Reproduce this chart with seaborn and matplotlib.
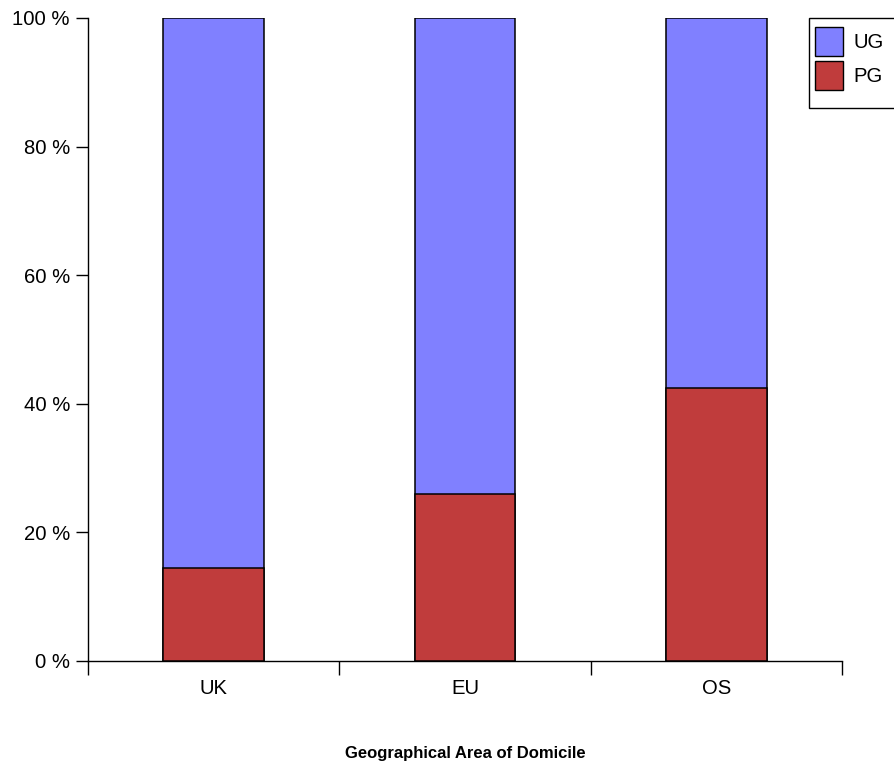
import matplotlib
matplotlib.use("Agg")
import matplotlib.pyplot as plt
import seaborn as sns
import pandas as pd
from matplotlib.patches import Patch, Rectangle

categories = ["UK", "EU", "OS"]
pg_pct = [14.5, 26.0, 42.4]
ug_pct = [85.5, 74.0, 57.6]
y_ticks = [0, 20, 40, 60, 80, 100]
y_tick_labels = ["0 %", "20 %", "40 %", "60 %", "80 %", "100 %"]

ug_color = "#8080FF"
pg_color = "#C03C3C"

sns.set_theme(style="white")
plt.rcParams["font.family"] = ["Liberation Sans", "DejaVu Sans"]
plt.rcParams["text.color"] = "black"
plt.rcParams["xtick.color"] = "black"
plt.rcParams["ytick.color"] = "black"
plt.rcParams["axes.labelcolor"] = "black"

df = pd.DataFrame({"area": categories, "pg": pg_pct, "ug": ug_pct})
df["total"] = df["pg"] + df["ug"]

W, H = 894, 767
fig = plt.figure(figsize=(W / 100, H / 100), dpi=100)
ax = fig.add_axes([88 / W, 106 / H, (842 - 88) / W, (661 - 18) / H])

sns.barplot(data=df, x="area", y="total", color=ug_color, saturation=1,
            width=0.4, edgecolor="black", linewidth=1.1, ax=ax, zorder=2)
sns.barplot(data=df, x="area", y="pg", color=pg_color, saturation=1,
            width=0.4, edgecolor="black", linewidth=1.1, ax=ax, zorder=3)

ax.set_xlim(-0.5, 2.5)
ax.set_ylim(0, 100)
for s in ["top", "right"]:
    ax.spines[s].set_visible(False)
for s in ["left", "bottom"]:
    ax.spines[s].set_color("black")
    ax.spines[s].set_linewidth(1.0)

ax.set_yticks(y_ticks)
ax.set_yticklabels(y_tick_labels, fontsize=14.6)
ax.tick_params(axis="y", direction="out", length=9, width=1.0, color="black",
               labelcolor="black", pad=4, left=True)

ax.set_xticks([-0.5, 0.5, 1.5, 2.5])
ax.set_xticklabels([])
ax.set_xticks(range(len(categories)), minor=True)
ax.set_xticklabels(categories, minor=True, fontsize=14.6)
ax.tick_params(axis="x", which="major", direction="out", length=10, width=1.0,
               color="black", bottom=True)
ax.tick_params(axis="x", which="minor", length=0, pad=13, labelcolor="black")

ax.set_ylabel("")
ax.set_xlabel("Geographical Area of Domicile", fontsize=12, fontweight="bold", color="black")
ax.xaxis.set_label_coords(0.5, -(746 - 661) / 643)
ax.grid(False)

# legend frame (extends past the right edge as in the reference)
fig.patches.append(Rectangle((809 / W, 1 - 108 / H), 100 / W, 90 / H,
                             transform=fig.transFigure, facecolor="white",
                             edgecolor="black", linewidth=1.0, zorder=5))
handles = [Patch(facecolor=ug_color, edgecolor="black", linewidth=1.0, label="UG"),
           Patch(facecolor=pg_color, edgecolor="black", linewidth=1.0, label="PG")]
leg = fig.legend(handles=handles, loc="upper left",
                 bbox_to_anchor=(815 / W, 1 - 27 / H),
                 frameon=False, fontsize=14.6,
                 handlelength=1.39, handleheight=1.83, handletextpad=0.5,
                 borderpad=0, labelspacing=0.25, borderaxespad=0)
leg.set_zorder(6)

fig.savefig("out.png", dpi=100)
